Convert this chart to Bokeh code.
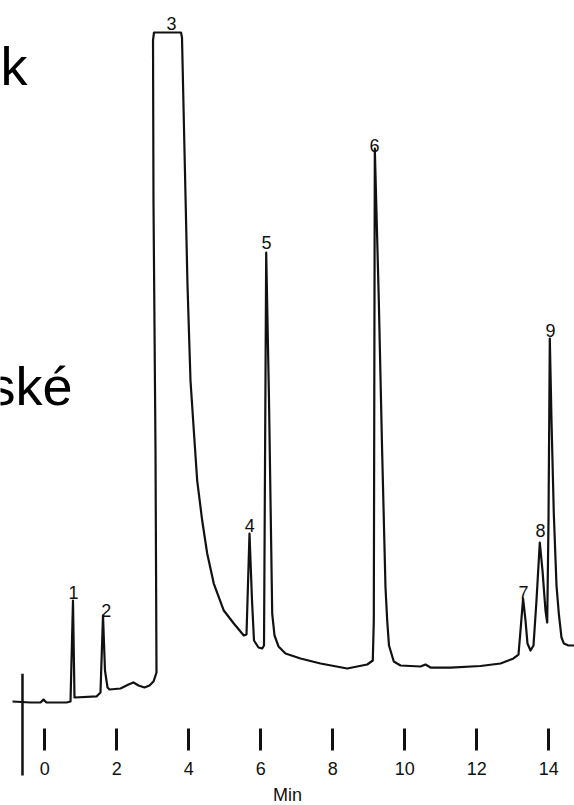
from bokeh.plotting import figure
from bokeh.models import Range1d, FixedTicker, Label, LinearAxis, ColumnDataSource
from bokeh.core.properties import value
from bokeh.embed import file_html
from bokeh.resources import INLINE

# ---- data (time in min, signal in % of full scale) ----
time_min = [-0.897, -0.397, -0.119, -0.036, 0.047, 0.603, 0.714, 0.783, 0.825, 1.436,
            1.547, 1.617, 1.672, 1.742, 1.797, 2.103, 2.325, 2.464, 2.603, 2.769,
            2.908, 3.019, 3.103, 3.075, 3.019, 3.006, 3.033, 3.783, 3.811, 3.881,
            3.964, 4.047, 4.139, 4.233, 4.372, 4.511, 4.694, 4.972, 5.25, 5.528,
            5.603, 5.686, 5.756, 5.811, 5.936, 6.039, 6.089, 6.15, 6.228, 6.317,
            6.381, 6.492, 6.686, 7.103, 7.658, 8.4, 8.956, 9.111, 9.139, 9.167,
            9.278, 9.372, 9.464, 9.511, 9.561, 9.694, 9.881, 10.436, 10.575, 10.714,
            11.269, 12.103, 12.658, 13.019, 13.158, 13.214, 13.286, 13.353, 13.408, 13.492,
            13.575, 13.658, 13.75, 13.825, 13.908, 13.956, 13.992, 14.028, 14.075, 14.139,
            14.214, 14.278, 14.353, 14.417, 14.547, 14.714]
signal = [0.15, 0.0, 0.0, 0.45, 0.0, 0.0, 0.15, 15.22, 0.75, 0.9,
          1.49, 12.99, 4.78, 2.24, 1.94, 2.09, 2.69, 2.99, 2.54, 2.24,
          2.54, 3.13, 4.48, 37.61, 74.93, 98.81, 100.0, 100.0, 99.25, 82.24,
          62.24, 48.06, 40.6, 33.13, 27.16, 22.24, 17.76, 13.73, 11.79, 10.0,
          10.15, 25.22, 15.22, 9.25, 8.21, 8.06, 8.51, 67.16, 45.07, 13.28,
          10.0, 8.36, 7.31, 6.57, 5.82, 5.07, 5.67, 6.27, 12.24, 82.69,
          60.0, 37.16, 17.16, 12.24, 8.51, 6.12, 5.52, 5.37, 5.67, 5.22,
          5.22, 5.45, 5.82, 6.57, 7.16, 10.75, 15.52, 12.24, 8.81, 7.76,
          8.51, 15.22, 23.88, 19.7, 13.73, 11.94, 27.16, 54.33, 42.09, 28.21,
          17.46, 13.28, 9.7, 8.81, 8.51, 8.51]

peak_ids = ["1", "2", "3", "4", "5", "6", "7", "8", "9"]
label_time = [0.80, 1.71, 3.52, 5.69, 6.16, 9.16, 13.30, 13.77, 14.05]
label_signal = [16.42, 13.73, 101.34, 26.42, 68.66, 83.13, 16.42, 25.67, 55.52]

tick_values = [0, 2, 4, 6, 8, 10, 12, 14]
x_label = "Min"
slide_words = ["k", "ské"]
slide_word_signal = [95.07, 47.31]
slide_word_shift = [0, -12]

# axis stub at the start of the trace (time, signal from / to)
stub_time = [-0.62]
stub_top = [4.3]
stub_bottom = [-10.9]
tick_row_signal = -3.88      # level where the time-axis tick marks start

X_RANGE = (-1.2306, 14.714)
Y_RANGE = (-15.373, 104.776)

DIGIT_FONT = "Liberation Sans Narrow, Liberation Sans, sans-serif"

p = figure(width=574, height=805, output_backend="svg", toolbar_location=None,
           x_range=Range1d(*X_RANGE), y_range=Range1d(*Y_RANGE),
           x_axis_location=None, y_axis_location=None,
           min_border_left=0, min_border_right=0, min_border_top=0, min_border_bottom=0)
p.grid.visible = False
p.outline_line_color = None
p.background_fill_color = "white"
p.border_fill_color = "white"

src = ColumnDataSource(dict(t=time_min, s=signal))
p.line("t", "s", source=src, line_color="#111111", line_width=2.2, line_join="round")

p.segment(x0=stub_time, y0=stub_top, x1=stub_time, y1=stub_bottom,
          line_color="#111111", line_width=2.5)

lab = ColumnDataSource(dict(t=label_time, s=label_signal, txt=peak_ids))
p.text("t", "s", text="txt", source=lab, text_align="center", text_baseline="alphabetic",
       text_font=value(DIGIT_FONT), text_font_size="18px", text_color="#111111")

xa = LinearAxis(fixed_location=tick_row_signal)
xa.ticker = FixedTicker(ticks=tick_values)
xa.axis_line_color = None
xa.major_tick_in = 0
xa.major_tick_out = 22
xa.major_tick_line_width = 3
xa.major_tick_line_color = "#111111"
xa.minor_tick_line_color = None
xa.major_label_standoff = 12
xa.major_label_text_font = DIGIT_FONT
xa.major_label_text_font_size = "18px"
xa.major_label_text_color = "#111111"
xa.axis_label = x_label
xa.axis_label_standoff = 6
xa.axis_label_text_font = DIGIT_FONT
xa.axis_label_text_font_style = "normal"
xa.axis_label_text_font_size = "18px"
xa.axis_label_text_color = "#111111"
p.add_layout(xa, "below")

for word, ys, dx in zip(slide_words, slide_word_signal, slide_word_shift):
    p.add_layout(Label(x=X_RANGE[0], y=ys, text=word, x_offset=dx,
                       text_font="Liberation Sans", text_font_size="54px",
                       text_baseline="alphabetic", text_color="black"))

open("out.html", "w").write(file_html(p, INLINE))
